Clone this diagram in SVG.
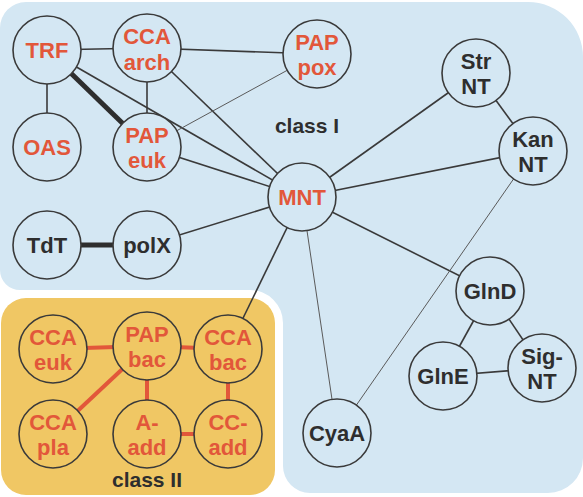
<svg xmlns="http://www.w3.org/2000/svg" width="583" height="497" viewBox="0 0 583 497">
<style>
.n1 circle{fill:#d4e7f3;stroke:#3a3a3a;stroke-width:1.6}
.n2 circle{fill:#f0c764;stroke:#3a3a3a;stroke-width:1.6}
text{font-family:"Liberation Sans",Arial,sans-serif;font-weight:bold;font-size:22px;text-anchor:middle}
.r{fill:#e2573a}
.d{fill:#2e2e2e}
.e{stroke:#3a3a3a;stroke-width:1.6;fill:none}
.k{stroke:#2e2e2e;stroke-width:5;fill:none}
.l{stroke:#5a5a5a;stroke-width:1;fill:none}
.c2{stroke:#e2573a;stroke-width:4;fill:none}
.lab{font-size:21px;fill:#2e2e2e}
</style>
<rect width="583" height="497" fill="#ffffff"/>
<path id="classI-bg" d="M0,28 A26,26 0 0 1 26,2 L528,2 A55,55 0 0 1 583,57 L583,458 A35,35 0 0 1 548,493 L310,493 A27,27 0 0 1 283,466 L283,323 A33,33 0 0 0 250,290 L20,290 A20,20 0 0 1 0,270 Z" fill="#d4e7f3"/>
<rect id="classII-bg" x="1" y="298" width="274" height="197" rx="25" fill="#f0c764"/>
<g id="connectors">
<line class="e" x1="47" y1="50" x2="147" y2="48"/>
<line class="e" x1="47" y1="50" x2="47" y2="147"/>
<line class="k" x1="47" y1="50" x2="147" y2="147"/>
<line class="e" x1="47" y1="50" x2="302" y2="197"/>
<line class="e" x1="147" y1="48" x2="317" y2="54"/>
<line class="e" x1="147" y1="48" x2="147" y2="147"/>
<line class="e" x1="147" y1="48" x2="302" y2="197"/>
<line class="l" x1="147" y1="147" x2="317" y2="54"/>
<line class="e" x1="147" y1="147" x2="302" y2="197"/>
<line class="k" x1="47" y1="245" x2="147" y2="245"/>
<line class="e" x1="147" y1="245" x2="302" y2="197"/>
<line class="e" x1="302" y1="197" x2="476" y2="73"/>
<line class="e" x1="302" y1="197" x2="533" y2="151"/>
<line class="e" x1="476" y1="73" x2="533" y2="151"/>
<line class="e" x1="302" y1="197" x2="490" y2="291"/>
<line class="l" x1="302" y1="197" x2="337" y2="433"/>
<line class="e" x1="302" y1="197" x2="228" y2="349"/>
<line class="l" x1="533" y1="151" x2="337" y2="433"/>
<line class="e" x1="490" y1="291" x2="443" y2="376"/>
<line class="e" x1="490" y1="291" x2="542" y2="368"/>
<line class="e" x1="443" y1="376" x2="542" y2="368"/>
<line class="c2" x1="53" y1="349" x2="147" y2="346"/>
<line class="c2" x1="147" y1="346" x2="228" y2="349"/>
<line class="c2" x1="147" y1="346" x2="53" y2="434"/>
<line class="c2" x1="147" y1="346" x2="147" y2="434"/>
<line class="c2" x1="228" y1="349" x2="228" y2="434"/>
<line class="c2" x1="147" y1="434" x2="228" y2="434"/>
</g>
<text class="lab" x="307" y="133">class I</text>
<text class="lab" x="147" y="487">class II</text>
<g id="TRF" class="n1"><circle cx="47" cy="50" r="34"/><text class="r" x="47" y="58">TRF</text></g>
<g id="CCAarch" class="n1"><circle cx="147" cy="48" r="34"/><text class="r" x="147" y="44">CCA</text><text class="r" x="147" y="70">arch</text></g>
<g id="PAPpox" class="n1"><circle cx="317" cy="54" r="34"/><text class="r" x="317" y="50">PAP</text><text class="r" x="317" y="75">pox</text></g>
<g id="OAS" class="n1"><circle cx="47" cy="147" r="34"/><text class="r" x="47" y="155">OAS</text></g>
<g id="PAPeuk" class="n1"><circle cx="147" cy="147" r="34"/><text class="r" x="147" y="143">PAP</text><text class="r" x="147" y="168">euk</text></g>
<g id="MNT" class="n1"><circle cx="302" cy="197" r="34"/><text class="r" x="302" y="205">MNT</text></g>
<g id="TdT" class="n1"><circle cx="47" cy="245" r="34"/><text class="d" x="47" y="253">TdT</text></g>
<g id="polX" class="n1"><circle cx="147" cy="245" r="34"/><text class="d" x="147" y="253">polX</text></g>
<g id="StrNT" class="n1"><circle cx="476" cy="73" r="34"/><text class="d" x="476" y="69">Str</text><text class="d" x="476" y="94">NT</text></g>
<g id="KanNT" class="n1"><circle cx="533" cy="151" r="34"/><text class="d" x="533" y="147">Kan</text><text class="d" x="533" y="172">NT</text></g>
<g id="GlnD" class="n1"><circle cx="490" cy="291" r="34"/><text class="d" x="490" y="299">GlnD</text></g>
<g id="GlnE" class="n1"><circle cx="443" cy="376" r="34"/><text class="d" x="443" y="384">GlnE</text></g>
<g id="SigNT" class="n1"><circle cx="542" cy="368" r="34"/><text class="d" x="542" y="364">Sig-</text><text class="d" x="542" y="389">NT</text></g>
<g id="CyaA" class="n1"><circle cx="337" cy="433" r="34"/><text class="d" x="337" y="441">CyaA</text></g>
<g id="CCAeuk" class="n2"><circle cx="53" cy="349" r="34"/><text class="r" x="53" y="345">CCA</text><text class="r" x="53" y="370">euk</text></g>
<g id="PAPbac" class="n2"><circle cx="147" cy="346" r="34"/><text class="r" x="147" y="342">PAP</text><text class="r" x="147" y="367">bac</text></g>
<g id="CCAbac" class="n2"><circle cx="228" cy="349" r="34"/><text class="r" x="228" y="345">CCA</text><text class="r" x="228" y="370">bac</text></g>
<g id="CCApla" class="n2"><circle cx="53" cy="434" r="34"/><text class="r" x="53" y="430">CCA</text><text class="r" x="53" y="455">pla</text></g>
<g id="Aadd" class="n2"><circle cx="147" cy="434" r="34"/><text class="r" x="147" y="430">A-</text><text class="r" x="147" y="455">add</text></g>
<g id="CCadd" class="n2"><circle cx="228" cy="434" r="34"/><text class="r" x="228" y="430">CC-</text><text class="r" x="228" y="455">add</text></g>
</svg>
